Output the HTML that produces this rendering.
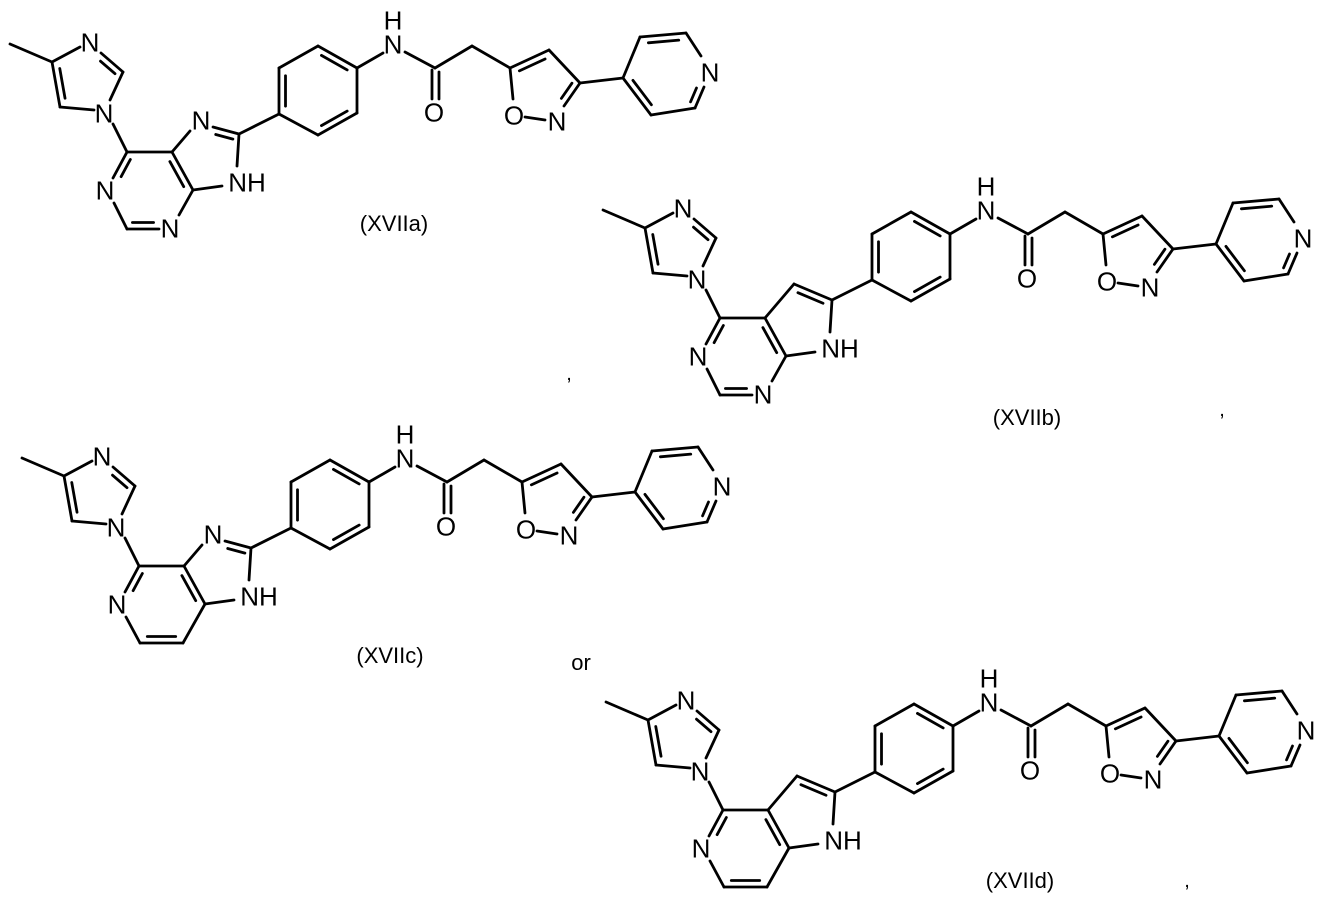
<!DOCTYPE html>
<html><head><meta charset="utf-8"><style>
html,body{margin:0;padding:0;background:#fff;}
svg{display:block;}
text{font-family:"Liberation Sans",Arial,sans-serif;fill:#000;}
</style></head><body>
<svg id="s" width="1325" height="900" viewBox="0 0 1325 900" xmlns="http://www.w3.org/2000/svg">
<g id="g" stroke="#000" stroke-width="2.8" stroke-linecap="round" fill="none"></g>
<text x="394" y="231" font-size="22" text-anchor="middle">(XVIIa)</text>
<text x="1027" y="425" font-size="22" text-anchor="middle">(XVIIb)</text>
<text x="390" y="663" font-size="22" text-anchor="middle">(XVIIc)</text>
<text x="1020" y="888" font-size="22" text-anchor="middle">(XVIId)</text>
<text x="581" y="670" font-size="22" text-anchor="middle">or</text>
<text x="569" y="380" font-size="20" text-anchor="middle">,</text>
<text x="1222" y="416" font-size="20" text-anchor="middle">,</text>
<text x="1187" y="887" font-size="20" text-anchor="middle">,</text>
</svg>
<script>
var svg=document.getElementById('s'),g=document.getElementById('g'),NS='http://www.w3.org/2000/svg';
function L(x1,y1,x2,y2){var l=document.createElementNS(NS,'line');l.setAttribute('x1',x1);l.setAttribute('y1',y1);l.setAttribute('x2',x2);l.setAttribute('y2',y2);g.appendChild(l);}
function T(x,y,s,fs){var t=document.createElementNS(NS,'text');t.setAttribute('x',x);t.setAttribute('y',y+ (fs||26)*0.36);t.setAttribute('font-size',fs||26);t.setAttribute('text-anchor','middle');t.textContent=s;svg.appendChild(t);}
function mol(ox,oy,six,five){
 function l(a,b,c,d){L(a+ox,b+oy,c+ox,d+oy);}
 function dbl(a,b,c,d,cx,cy){l(a,b,c,d);
   var mx=(a+c)/2,my=(b+d)/2,dx=c-a,dy=d-b,len=Math.hypot(dx,dy),nx=-dy/len,ny=dx/len;
   if((cx-mx)*nx+(cy-my)*ny<0){nx=-nx;ny=-ny;}
   var o=6.5,s=0.17;
   l(a+dx*s+nx*o,b+dy*s+ny*o,c-dx*s+nx*o,d-dy*s+ny*o);}
 function t(x,y,s){T(x+ox,y+oy,s);}
 // methyl + imidazole
 l(10,44,52,62); l(52,62,80,47); t(90,42,'N');
 dbl(101,53,123,72,88,82); l(123,72,110,100); t(104,113,'N');
 l(94,110,60,107); dbl(60,107,52,62,88,82);
 l(113,124,127,152);
 // six ring
 var c6=[150,190];
 if(six==='pym'){
  dbl(127,152,113,178,150,190); t(105,190,'N'); l(114,203,127,229);
  dbl(127,229,159,229,150,190); t(170,228,'N'); l(179,215,193,190);
 } else {
  dbl(127,152,113,178,150,190); t(105,190,'N'); l(114,203,128,229);
  dbl(128,229,171,229,150,190); l(171,229,193,190);
 }
 dbl(193,190,172,152,150,190); l(172,152,127,152);
 // five ring
 if(five==='imid'){
  l(172,152,190,131); t(201,120,'N'); dbl(213,127,239,134,212,160);
 } else {
  l(172,152,201,118); dbl(201,118,239,134,212,160);
 }
 l(239,134,237,166); t(247,182,'NH'); l(222,186,193,190);
 // phenyl
 l(239,134,279,114);
 var P=[[279,114],[279,68],[318,46],[357,68],[357,113],[318,135]],pc=[318,90];
 for(var i=0;i<6;i++){var A=P[i],B=P[(i+1)%6];
  if(i===0||i===2||i===4)dbl(A[0],A[1],B[0],B[1],pc[0],pc[1]);else l(A[0],A[1],B[0],B[1]);}
 l(357,68,383,53); t(393,44,'N'); t(393,20,'H');
 l(405,52,435,68); l(432,70,432,99); l(439,72,439,99); t(434,112,'O');
 l(435,68,472,46); l(472,46,510,68);
 // isoxazole
 dbl(510,68,549,50,540,90); l(549,50,580,83); dbl(580,83,564,106,540,90);
 t(557,121,'N'); l(525,117,545,120); t(514,115,'O'); l(510,68,513,99);
 // pyridine
 l(580,83,623,78); var pyc=[668,75];
 l(623,78,640,37); dbl(640,37,686,33,668,75); l(686,33,701,56); T(710+ox,72+oy,'N');
 dbl(704,87,695,108,668,75); l(695,108,651,115); dbl(651,115,623,78,668,75);
}
mol(0,0,'pym','imid');
mol(593,166,'pym','pyr');
mol(12,414,'pyr','imid');
mol(596,658,'pyr','pyr');
</script>
</body></html>
